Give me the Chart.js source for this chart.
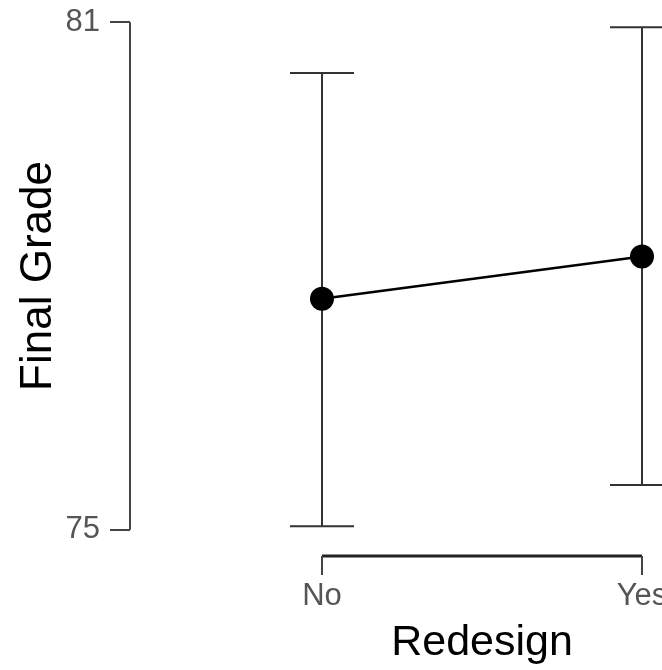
<!DOCTYPE html>
<html>
<head>
<meta charset="utf-8">
<script src="https://cdn.jsdelivr.net/npm/chart.js@4/dist/chart.umd.min.js"></script>
<style>
  html, body { margin: 0; padding: 0; overflow: hidden; background: #fff; width: 662px; height: 670px; }
  #wrap { position: absolute; left: 0; top: 0; width: 900px; height: 670px; }
</style>
</head>
<body>
<div id="wrap"><canvas id="c" width="900" height="670"></canvas></div>
<script>
// Group means of the final grade with their confidence limits
const categories = ['No', 'Yes'];
const means = [77.73, 78.23];
const lowerCI = [75.04, 75.53];
const upperCI = [80.40, 80.94];
const yTickValues = [75, 81];

const FONT = "'Liberation Sans', Arial, sans-serif";

// Error bars plus base-graphics style axis lines (y spine limited to the tick range, x bracket)
const errorBarsAndAxes = {
  id: 'errorBarsAndAxes',
  beforeDatasetsDraw(chart) {
    const { ctx, scales: { x, y } } = chart;
    ctx.save();
    ctx.strokeStyle = '#333';
    ctx.lineWidth = 2;
    categories.forEach((c, i) => {
      const px = x.getPixelForValue(i);
      const top = y.getPixelForValue(upperCI[i]);
      const bot = y.getPixelForValue(lowerCI[i]);
      ctx.beginPath();
      ctx.moveTo(px, top); ctx.lineTo(px, bot);
      ctx.moveTo(px - 32, top); ctx.lineTo(px + 32, top);
      ctx.moveTo(px - 32, bot); ctx.lineTo(px + 32, bot);
      ctx.stroke();
    });
    ctx.restore();
  },
  afterDraw(chart) {
    const { ctx, chartArea, scales: { x, y } } = chart;
    ctx.save();
    // y spine from lowest to highest tick
    ctx.strokeStyle = '#444';
    ctx.lineWidth = 2;
    ctx.beginPath();
    ctx.moveTo(chartArea.left, y.getPixelForValue(yTickValues[yTickValues.length - 1]));
    ctx.lineTo(chartArea.left, y.getPixelForValue(yTickValues[0]));
    ctx.stroke();
    // x bracket between first and last category
    const yb = chartArea.bottom + 6;
    const x0 = x.getPixelForValue(0);
    const x1 = x.getPixelForValue(categories.length - 1);
    ctx.strokeStyle = '#222';
    ctx.lineWidth = 3;
    ctx.beginPath();
    ctx.moveTo(x0, yb); ctx.lineTo(x1, yb);
    ctx.stroke();
    ctx.strokeStyle = '#444';
    ctx.lineWidth = 2;
    ctx.beginPath();
    categories.forEach((c, i) => {
      const px = x.getPixelForValue(i);
      ctx.moveTo(px, yb); ctx.lineTo(px, yb + 19);
    });
    ctx.stroke();
    ctx.restore();
  }
};

new Chart(document.getElementById('c'), {
  type: 'line',
  data: {
    datasets: [{
      data: means.map((m, i) => ({ x: i, y: m })),
      borderColor: '#000',
      borderWidth: 2.5,
      backgroundColor: '#000',
      pointRadius: 12,
      pointBackgroundColor: '#000',
      pointBorderWidth: 0,
      tension: 0,
      clip: false
    }]
  },
  options: {
    responsive: false,
    animation: false,
    devicePixelRatio: 1,
    layout: { autoPadding: false, padding: { top: 2, right: 66, bottom: 0, left: 0 } },
    plugins: { legend: { display: false }, tooltip: { enabled: false } },
    scales: {
      x: {
        type: 'linear',
        min: -0.6,
        max: 1.6,
        bounds: 'data',
        afterFit: (s) => { s.height = 120; s.paddingLeft = 0; s.paddingRight = 0; },
        afterBuildTicks: (s) => { s.ticks = categories.map((c, i) => ({ value: i })); },
        grid: { display: false, drawTicks: false },
        border: { display: false },
        ticks: {
          autoSkip: false,
          maxRotation: 0,
          padding: 28,
          color: '#555',
          font: { family: FONT, size: 31 },
          callback: (v) => categories[v]
        },
        title: {
          display: true,
          text: 'Redesign',
          color: '#000',
          font: { family: FONT, size: 43 },
          padding: { top: 0, bottom: 1 }
        }
      },
      y: {
        min: 74.76,
        max: 81.24,
        bounds: 'data',
        afterFit: (s) => { s.width = 130; s.paddingTop = 0; s.paddingBottom = 0; },
        afterBuildTicks: (s) => { s.ticks = yTickValues.map(v => ({ value: v })); },
        grid: { display: true, drawOnChartArea: false, drawTicks: true, tickLength: 20, color: '#444', lineWidth: 2 },
        border: { display: false },
        ticks: {
          padding: 10,
          color: '#555',
          font: { family: FONT, size: 31 }
        },
        title: {
          display: true,
          text: 'Final Grade',
          color: '#000',
          font: { family: FONT, size: 44 },
          padding: { top: 12, bottom: 0 }
        }
      }
    }
  },
  plugins: [errorBarsAndAxes]
});
</script>
</body>
</html>
